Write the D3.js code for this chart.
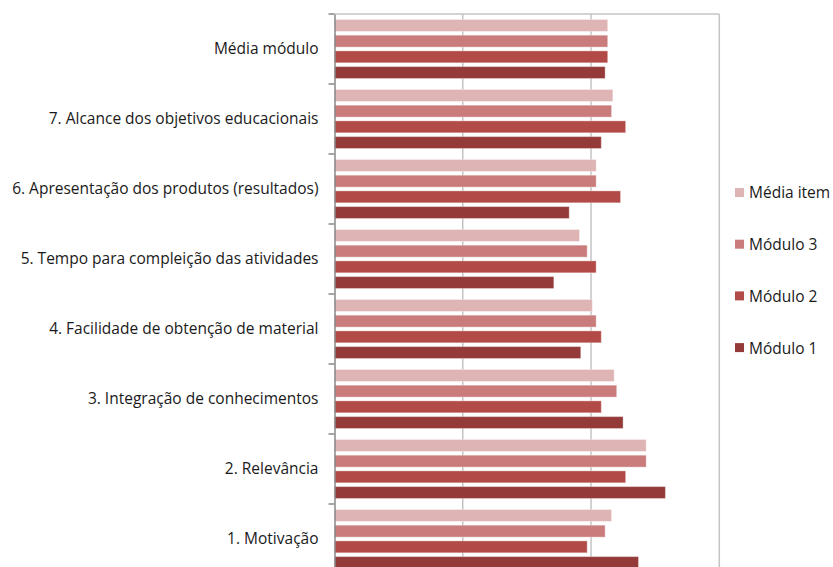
<!DOCTYPE html>
<html><head><meta charset="utf-8">
<script src="https://cdn.jsdelivr.net/npm/d3@7"></script>
<style>body{margin:0;background:#fff}svg{display:block}text{font-family:"Open Sans","Noto Sans",sans-serif;fill:#1a1a1a}</style>
</head><body><svg id="c" width="833" height="567"></svg>
<script>
const categories = ["Média módulo","7. Alcance dos objetivos educacionais","6. Apresentação dos produtos (resultados)","5. Tempo para compleição das atividades","4. Facilidade de obtenção de material","3. Integração de conhecimentos","2. Relevância","1. Motivação"];
const series = ["Média item","Módulo 3","Módulo 2","Módulo 1"];
const colors = ["#dfb4b4","#c97c7b","#b24b48","#943b3a"];
const mediaItem = [2.13,2.17,2.04,1.91,2.01,2.18,2.43,2.16];
const modulo3   = [2.13,2.16,2.04,1.97,2.04,2.20,2.43,2.11];
const modulo2   = [2.13,2.27,2.23,2.04,2.08,2.08,2.27,1.97];
const modulo1   = [2.11,2.08,1.83,1.71,1.92,2.25,2.58,2.37];
const values = [mediaItem, modulo3, modulo2, modulo1];
const xTicks = [0,1,2,3];

const svg = d3.select("#c");
const L=334.5, R=719.3, T=14, B=574;
const FS = 15.5;
const x = d3.scaleLinear().domain([0,3]).range([L,R]);
const y = d3.scaleBand().domain(categories).range([T,B]);
const y1 = d3.scaleBand().domain(series).range([0,y.bandwidth()]).paddingInner(0.24).paddingOuter(0.35);

svg.append("g").selectAll("line").data(xTicks.slice(1)).join("line")
  .attr("x1",d=>x(d)).attr("x2",d=>x(d)).attr("y1",T).attr("y2",B)
  .attr("stroke","#c4c4c4").attr("stroke-width",1.5);
svg.append("line").attr("x1",L).attr("x2",R).attr("y1",T).attr("y2",T).attr("stroke","#c4c4c4").attr("stroke-width",1.5);

const g = svg.append("g");
series.forEach((s,si)=>{
  g.append("g").selectAll("rect").data(categories).join("rect")
    .attr("x",x(0)).attr("y",c=>y(c)+y1(s))
    .attr("width",(c,i)=>x(values[si][i])-x(0))
    .attr("height",y1.bandwidth())
    .attr("fill",colors[si])
    .attr("stroke","rgba(255,255,255,0.35)").attr("stroke-width",1);
});

const ax = d3.axisLeft(y).tickSize(0).tickPadding(16);
const axg = svg.append("g").attr("transform",`translate(${L},0)`).call(ax);
axg.select(".domain").attr("stroke","#888").attr("stroke-width",1.5);
axg.selectAll("text").attr("font-size",FS).style("font-family","'Open Sans','Noto Sans',sans-serif").attr("fill","#1a1a1a");
svg.append("g").selectAll("line").data(d3.range(categories.length+1)).join("line")
  .attr("x1",L-6).attr("x2",L).attr("y1",i=>T+i*y.step()).attr("y2",i=>T+i*y.step())
  .attr("stroke","#888").attr("stroke-width",1.5);

const lg = svg.append("g");
series.forEach((s,i)=>{
  const ly = 193 + i*51.7;
  lg.append("rect").attr("x",735).attr("y",ly-5).attr("width",9).attr("height",9).attr("fill",colors[i]);
  lg.append("text").attr("x",749).attr("y",ly).attr("dy","0.35em").attr("font-size",FS).text(s);
});
</script></body></html>
